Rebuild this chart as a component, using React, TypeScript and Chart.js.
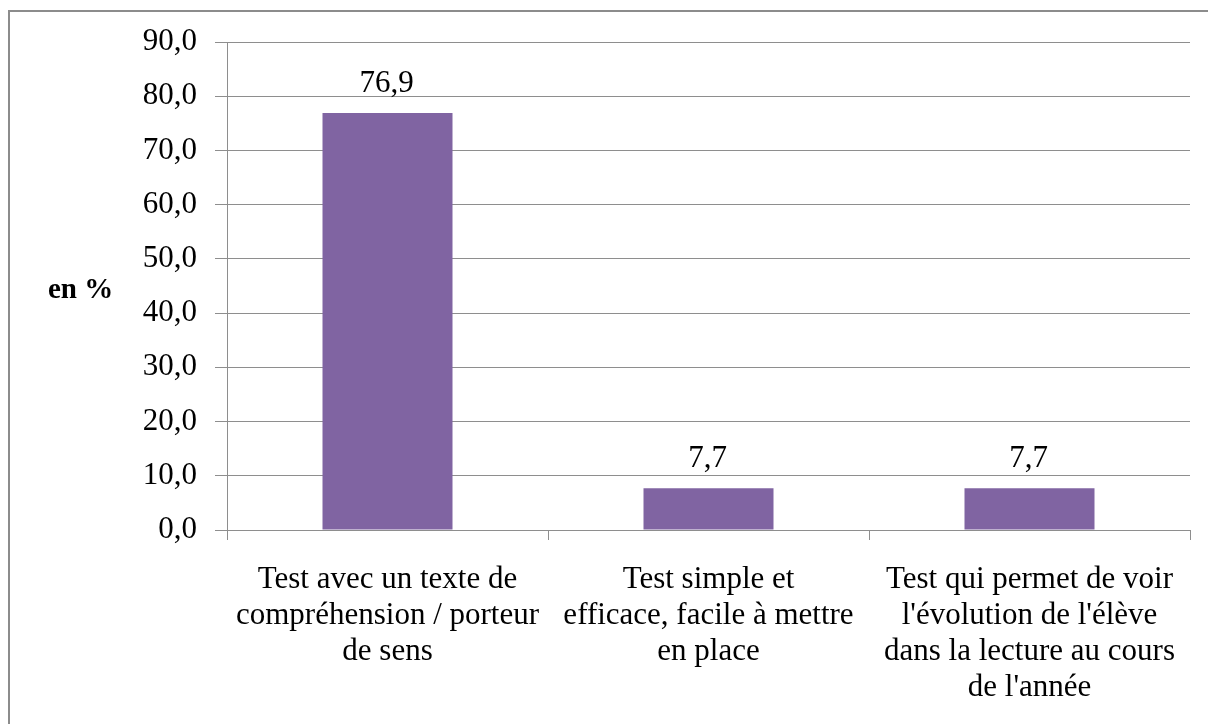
import React, { useEffect, useRef } from "react";
import { Chart, registerables } from "chart.js";

Chart.register(...registerables);

const categories: string[][] = [
  ["Test avec un texte de", "compréhension / porteur", "de sens"],
  ["Test simple et", "efficace, facile à mettre", "en place"],
  ["Test qui permet de voir", "l'évolution de l'élève", "dans la lecture au cours", "de l'année"],
];
const values: number[] = [76.9, 7.7, 7.7];
const yAxisTitle = "en %";
const yMin = 0;
const yMax = 90;
const yStep = 10;

const FONT = "'Liberation Serif', 'Times New Roman', serif";
const fmt = (v: number) => v.toFixed(1).replace(".", ",");

const dataLabelPlugin = {
  id: "dataLabels",
  afterDatasetsDraw(chart: any) {
    const ctx = chart.ctx;
    const meta = chart.getDatasetMeta(0);
    ctx.save();
    ctx.font = `31px ${FONT}`;
    ctx.fillStyle = "#000";
    ctx.textAlign = "center";
    ctx.textBaseline = "alphabetic";
    meta.data.forEach((bar: any, i: number) => {
      ctx.fillText(fmt(values[i]), bar.x - 1, bar.y - 21);
    });
    ctx.restore();
  },
};

const yTitlePlugin = {
  id: "yTitle",
  afterDraw(chart: any) {
    const ctx = chart.ctx;
    const area = chart.chartArea;
    ctx.save();
    ctx.font = `bold 29px ${FONT}`;
    ctx.fillStyle = "#000";
    ctx.textAlign = "left";
    ctx.textBaseline = "middle";
    ctx.fillText(yAxisTitle, 48, (area.top + area.bottom) / 2 + 5);
    ctx.restore();
  },
};

export default function App() {
  const ref = useRef<HTMLCanvasElement>(null);
  useEffect(() => {
    if (!ref.current) return;
    const chart = new Chart(ref.current, {
      type: "bar",
      data: {
        labels: categories,
        datasets: [
          {
            data: values,
            backgroundColor: "#8064A2",
            borderWidth: 0,
            categoryPercentage: 1,
            barPercentage: 0.405,
          },
        ],
      },
      options: {
        animation: false,
        responsive: false,
        maintainAspectRatio: false,
        layout: { padding: { top: 42, right: 18, left: 0, bottom: 0 } },
        plugins: { legend: { display: false }, tooltip: { enabled: false } },
        scales: {
          x: {
            offset: true,
            grid: {
              display: true,
              drawOnChartArea: false,
              drawTicks: true,
              tickLength: 10,
              color: "#8e8e8e",
              offset: true,
            },
            border: { display: true, color: "#8e8e8e" },
            ticks: {
              color: "#000",
              font: { family: FONT, size: 31, lineHeight: 1.16 },
              padding: 22,
              maxRotation: 0,
              autoSkip: false,
            },
            afterFit: (s: any) => {
              s.height = 194;
            },
          },
          y: {
            min: yMin,
            max: yMax,
            grid: {
              color: "#8e8e8e",
              drawTicks: true,
              tickLength: 12,
            },
            border: { display: true, color: "#8e8e8e" },
            ticks: {
              stepSize: yStep,
              color: "#000",
              font: { family: FONT, size: 31 },
              padding: 18,
              callback: (v: any) => fmt(Number(v)),
            },
            afterFit: (s: any) => {
              s.width = 227;
            },
          },
        },
      },
      plugins: [dataLabelPlugin, yTitlePlugin],
    });
    return () => chart.destroy();
  }, []);

  return (
    <div
      style={{
        position: "fixed",
        left: 0,
        top: 0,
        width: 1208,
        height: 724,
        overflow: "hidden",
        background: "#fff",
      }}
    >
      <div
        style={{
          position: "absolute",
          left: 8,
          top: 10,
          width: 1400,
          height: 900,
          border: "2px solid #8c8c8c",
        }}
      />
      <canvas
        ref={ref}
        width={1208}
        height={724}
        style={{ position: "absolute", left: 0, top: 0, width: 1208, height: 724 }}
      />
    </div>
  );
}
